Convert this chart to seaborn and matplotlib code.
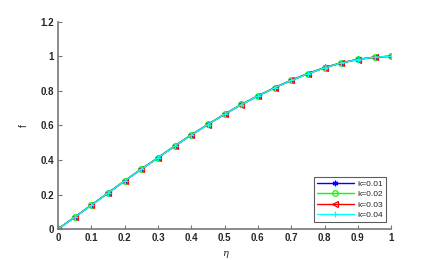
import numpy as np
import pandas as pd
import matplotlib
matplotlib.use("Agg")
import matplotlib.pyplot as plt
import seaborn as sns

eta = [0.0, 0.05, 0.10, 0.15, 0.20, 0.25, 0.30, 0.35, 0.40, 0.45, 0.50,
       0.55, 0.60, 0.65, 0.70, 0.75, 0.80, 0.85, 0.90, 0.95, 1.00]
f_k001 = [0.0, 0.069, 0.139, 0.209, 0.279, 0.347, 0.413, 0.481, 0.545, 0.606, 0.665,
          0.721, 0.771, 0.818, 0.862, 0.900, 0.935, 0.962, 0.982, 0.995, 1.000]
f_k002 = [0.0, 0.069, 0.139, 0.209, 0.279, 0.347, 0.413, 0.481, 0.545, 0.606, 0.665,
          0.721, 0.771, 0.818, 0.861, 0.899, 0.934, 0.962, 0.982, 0.995, 1.000]
f_k003 = [0.0, 0.068, 0.138, 0.208, 0.278, 0.346, 0.412, 0.480, 0.544, 0.605, 0.664,
          0.720, 0.770, 0.817, 0.860, 0.898, 0.933, 0.961, 0.981, 0.995, 1.000]
f_k004 = [0.0, 0.068, 0.138, 0.208, 0.278, 0.346, 0.412, 0.480, 0.544, 0.605, 0.664,
          0.720, 0.770, 0.817, 0.860, 0.898, 0.933, 0.961, 0.981, 0.995, 1.000]
labels = ["k=0.01", "k=0.02", "k=0.03", "k=0.04"]
colors = ["#0000ff", "#00ff00", "#ff0000", "#00ffff"]
markers = [(6, 2, 0), "o", "<", "+"]

sns.set_style("ticks")
plt.rcParams["font.family"] = ["Liberation Sans", "DejaVu Sans"]

fig = plt.figure(figsize=(4.34, 2.60), dpi=100)
ax = fig.add_axes([0.1336, 0.119, 0.9014 - 0.1336, 0.9165 - 0.119])

series = [f_k001, f_k002, f_k003, f_k004]
for vals, lab, col, mk in zip(series, labels, colors, markers):
    df = pd.DataFrame({"eta": eta, "f": vals})
    sns.lineplot(data=df, x="eta", y="f", ax=ax, color=col, linewidth=1.0,
                 marker=mk, markersize=4, markeredgecolor=col,
                 markerfacecolor="none" if mk in ("o", "<") else col,
                 markeredgewidth=0.9, label=lab)

ax.set_xlim(0, 1)
ax.set_ylim(0, 1.2)
ax.set_xticks([0, 0.1, 0.2, 0.3, 0.4, 0.5, 0.6, 0.7, 0.8, 0.9, 1])
ax.set_xticklabels(["0", "0.1", "0.2", "0.3", "0.4", "0.5", "0.6", "0.7", "0.8", "0.9", "1"])
ax.set_yticks([0, 0.2, 0.4, 0.6, 0.8, 1.0, 1.2])
ax.set_yticklabels(["0", "0.2", "0.4", "0.6", "0.8", "1", "1.2"])
for lbl in ax.get_xticklabels() + ax.get_yticklabels():
    lbl.set_fontweight("bold")
    lbl.set_fontsize(7)
ax.tick_params(direction="in", length=3, width=0.8, color="#777777", pad=3)
for s in ["top", "right"]:
    ax.spines[s].set_visible(False)
for s in ["left", "bottom"]:
    ax.spines[s].set_color("#777777")
    ax.spines[s].set_linewidth(1.2)

ax.set_xlabel("η", fontsize=7, fontstyle="italic", family=["DejaVu Serif"], labelpad=4)
ax.set_ylabel("f", fontsize=7, labelpad=8)

leg = ax.legend(loc="lower right", fontsize=6, frameon=True, fancybox=False,
                handlelength=4.5, borderpad=0.35, labelspacing=0.3,
                handletextpad=0.4, bbox_to_anchor=(0.997, 0.015))
leg.get_frame().set_edgecolor("#333333")
leg.get_frame().set_linewidth(0.8)

fig.savefig("out.png", dpi=100)
